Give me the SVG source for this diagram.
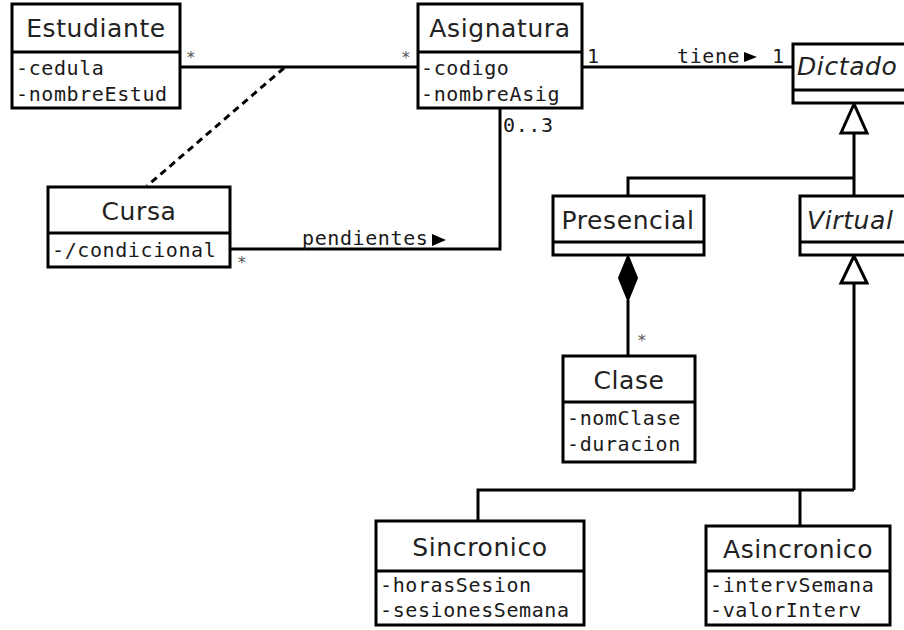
<svg xmlns="http://www.w3.org/2000/svg" width="904" height="630" viewBox="0 0 904 630">
<style>
.box{fill:#fff;stroke:#000;stroke-width:3}
.div{stroke:#000;stroke-width:3}
.ln{fill:none;stroke:#000;stroke-width:3}
.hd{font-family:"DejaVu Sans",sans-serif;font-size:25px;fill:#222;text-anchor:middle;letter-spacing:0.6px}
.it{font-family:"DejaVu Sans",sans-serif;font-size:25px;fill:#222;font-style:italic;letter-spacing:0.6px}
.at{font-family:"DejaVu Sans Mono",monospace;font-size:20px;fill:#1a1a1a;letter-spacing:0.6px}
.lb{font-family:"DejaVu Sans Mono",monospace;font-size:20px;fill:#1a1a1a;letter-spacing:0.6px}
.st{font-family:"DejaVu Sans Mono",monospace;font-size:16px;fill:#555}
</style>
<rect width="904" height="630" fill="#fff"/>
<g id="connectors">
<line class="ln" x1="180" y1="67" x2="418" y2="67"/>
<line class="ln" x1="284" y1="68" x2="147" y2="186" stroke-dasharray="7,5"/>
<line class="ln" x1="582" y1="67" x2="793" y2="67"/>
<polyline class="ln" points="230,249 500,249 500,108"/>
<polyline class="ln" points="854,133 854,196"/>
<polyline class="ln" points="628,196 628,178 854,178"/>
<polygon points="854,104 841,133 867,133" fill="#fff" stroke="#000" stroke-width="3"/>
<polyline class="ln" points="854,283 854,490"/>
<polyline class="ln" points="478,521 478,490 854,490"/>
<line class="ln" x1="800" y1="490" x2="800" y2="526"/>
<polygon points="854,256 841,283 867,283" fill="#fff" stroke="#000" stroke-width="3"/>
<line class="ln" x1="628" y1="300" x2="628" y2="356"/>
<polygon points="628,256 637,278 628,300 619,278" fill="#000" stroke="#000" stroke-width="2"/>
<text class="st" x="186" y="63">*</text>
<text class="st" x="401" y="63">*</text>
<text class="lb" x="587" y="63">1</text>
<text class="lb" x="677" y="63">tiene</text>
<polygon points="744,52 757,57 744,62" fill="#000"/>
<text class="lb" x="772" y="63">1</text>
<text class="lb" x="503" y="132">0..3</text>
<text class="st" x="237" y="268">*</text>
<text class="lb" x="302" y="245">pendientes</text>
<polygon points="432,234 446,240 432,246" fill="#000"/>
<text class="st" x="637" y="346">*</text>
</g>
<g id="Estudiante">
<rect class="box" x="12" y="4" width="168" height="104"/>
<line class="div" x1="12" y1="52" x2="180" y2="52"/>
<text class="hd" x="96" y="37">Estudiante</text>
<text class="at" x="16" y="75">-cedula</text>
<text class="at" x="16" y="101">-nombreEstud</text>
</g>
<g id="Asignatura">
<rect class="box" x="418" y="4" width="164" height="104"/>
<line class="div" x1="418" y1="52" x2="582" y2="52"/>
<text class="hd" x="500" y="37">Asignatura</text>
<text class="at" x="421" y="75">-codigo</text>
<text class="at" x="421" y="101">-nombreAsig</text>
</g>
<g id="Dictado">
<rect class="box" x="793" y="44" width="120" height="59"/>
<line class="div" x1="793" y1="90" x2="904" y2="90"/>
<text class="it" x="797" y="75">Dictado</text>
</g>
<g id="Cursa">
<rect class="box" x="48" y="187" width="182" height="80"/>
<line class="div" x1="48" y1="233" x2="230" y2="233"/>
<text class="hd" x="139" y="220">Cursa</text>
<text class="at" x="52" y="257">-/condicional</text>
</g>
<g id="Presencial">
<rect class="box" x="553" y="196" width="151" height="59"/>
<line class="div" x1="553" y1="242" x2="704" y2="242"/>
<text class="hd" x="628" y="229">Presencial</text>
</g>
<g id="Virtual">
<rect class="box" x="800" y="196" width="113" height="59"/>
<line class="div" x1="800" y1="242" x2="904" y2="242"/>
<text class="it" x="807" y="229">Virtual</text>
</g>
<g id="Clase">
<rect class="box" x="563" y="356" width="132" height="106"/>
<line class="div" x1="563" y1="402" x2="695" y2="402"/>
<text class="hd" x="629" y="389">Clase</text>
<text class="at" x="567" y="425">-nomClase</text>
<text class="at" x="567" y="451">-duracion</text>
</g>
<g id="Sincronico">
<rect class="box" x="376" y="521" width="208" height="104"/>
<line class="div" x1="376" y1="571" x2="584" y2="571"/>
<text class="hd" x="480" y="556">Sincronico</text>
<text class="at" x="380" y="592">-horasSesion</text>
<text class="at" x="380" y="617">-sesionesSemana</text>
</g>
<g id="Asincronico">
<rect class="box" x="706" y="526" width="184" height="99"/>
<line class="div" x1="706" y1="571" x2="890" y2="571"/>
<text class="hd" x="798" y="558">Asincronico</text>
<text class="at" x="710" y="592">-intervSemana</text>
<text class="at" x="710" y="617">-valorInterv</text>
</g>
</svg>
